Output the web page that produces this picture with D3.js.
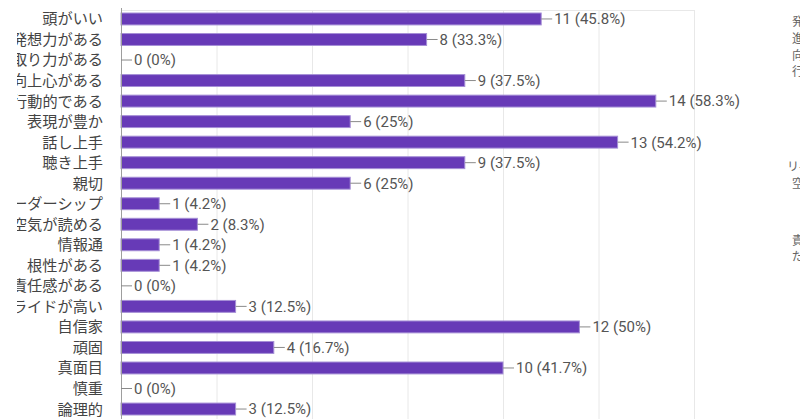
<!DOCTYPE html>
<html><head><meta charset="utf-8">
<script src="https://cdn.jsdelivr.net/npm/d3@7"></script>
<style>body{margin:0;background:#fff;overflow:hidden}svg{display:block}</style>
</head><body>
<svg id="c" width="800" height="419"></svg>
<script>
const categories = ["頭がいい","発想力がある","段取り力がある","向上心がある","行動的である","表現が豊か","話し上手","聴き上手","親切","リーダーシップ","空気が読める","情報通","根性がある","責任感がある","プライドが高い","自信家","頑固","真面目","慎重","論理的"];
const values = [11,8,0,9,14,6,13,9,6,1,2,1,1,0,3,12,4,10,0,3];
const percents = ["45.8%","33.3%","0%","37.5%","58.3%","25%","54.2%","37.5%","25%","4.2%","8.3%","4.2%","4.2%","0%","12.5%","50%","16.7%","41.7%","0%","12.5%"];
const gridTicks = [0,2.5,5,7.5,10,12.5,15];
const sideText = [["発",22],["進",39],["向",56],["行",72],["リ-",167],["空",184],["責",241],["だ",257]];

const svg = d3.select("#c");
const x = d3.scaleLinear().domain([0,15]).range([121,694]);
const y = d3.scaleBand().domain(categories).range([8.7,419.3]).paddingInner(0.42).paddingOuter(0.21);

svg.append("defs").append("clipPath").attr("id","labclip")
  .append("rect").attr("x",17).attr("y",0).attr("width",104).attr("height",419);

// grid
svg.append("g").selectAll("line").data(gridTicks.slice(1)).join("line")
  .attr("x1",d=>x(d)+0.5).attr("x2",d=>x(d)+0.5).attr("y1",10).attr("y2",419)
  .attr("stroke","#e8e8e8").attr("stroke-width",1);
svg.append("line").attr("x1",x(0)).attr("x2",x(15)).attr("y1",10.5).attr("y2",10.5).attr("stroke","#e8e8e8");

// bars
svg.append("g").selectAll("rect").data(values).join("rect")
  .attr("x",x(0)).attr("y",(d,i)=>y(categories[i]))
  .attr("width",d=>x(d)-x(0)).attr("height",y.bandwidth())
  .attr("fill",d=>d>0?"#673ab7":"none").attr("stroke",d=>d>0?"#a58fd6":"none").attr("stroke-width",1);

// axis line
svg.append("line").attr("x1",121.5).attr("x2",121.5).attr("y1",8).attr("y2",419).attr("stroke","#9e9e9e");

// leaders + value labels
const lab = svg.append("g");
values.forEach((v,i)=>{
  const cy = y(categories[i]) + y.bandwidth()/2;
  lab.append("line").attr("x1",x(v)).attr("x2",x(v)+11).attr("y1",cy).attr("y2",cy).attr("stroke","#8a8a8a");
  lab.append("text").attr("x",x(v)+13).attr("y",cy).attr("dy","0.36em")
    .attr("font-family","Roboto, 'Noto Sans', sans-serif").attr("font-size",15).attr("fill","#555")
    .text(`${v} (${percents[i]})`);
});

// category labels (left part hidden as in the cropped reference)
svg.append("g").attr("clip-path","url(#labclip)").selectAll("text").data(categories).join("text")
  .attr("x",103).attr("y",d=>y(d)+y.bandwidth()/2).attr("dy","0.36em").attr("text-anchor","end")
  .attr("font-family","'Noto Sans CJK JP', sans-serif").attr("font-size",15.2).attr("fill","#444")
  .text(d=>d);

// cropped neighbouring text at right edge
svg.append("g").selectAll("text").data(sideText).join("text")
  .attr("x",d=>d[0].length>1?787:792).attr("y",d=>d[1]).attr("dy","0.36em")
  .attr("font-family","'Noto Sans CJK JP', sans-serif").attr("font-size",12).attr("fill","#666")
  .text(d=>d[0]);
</script>
</body></html>
